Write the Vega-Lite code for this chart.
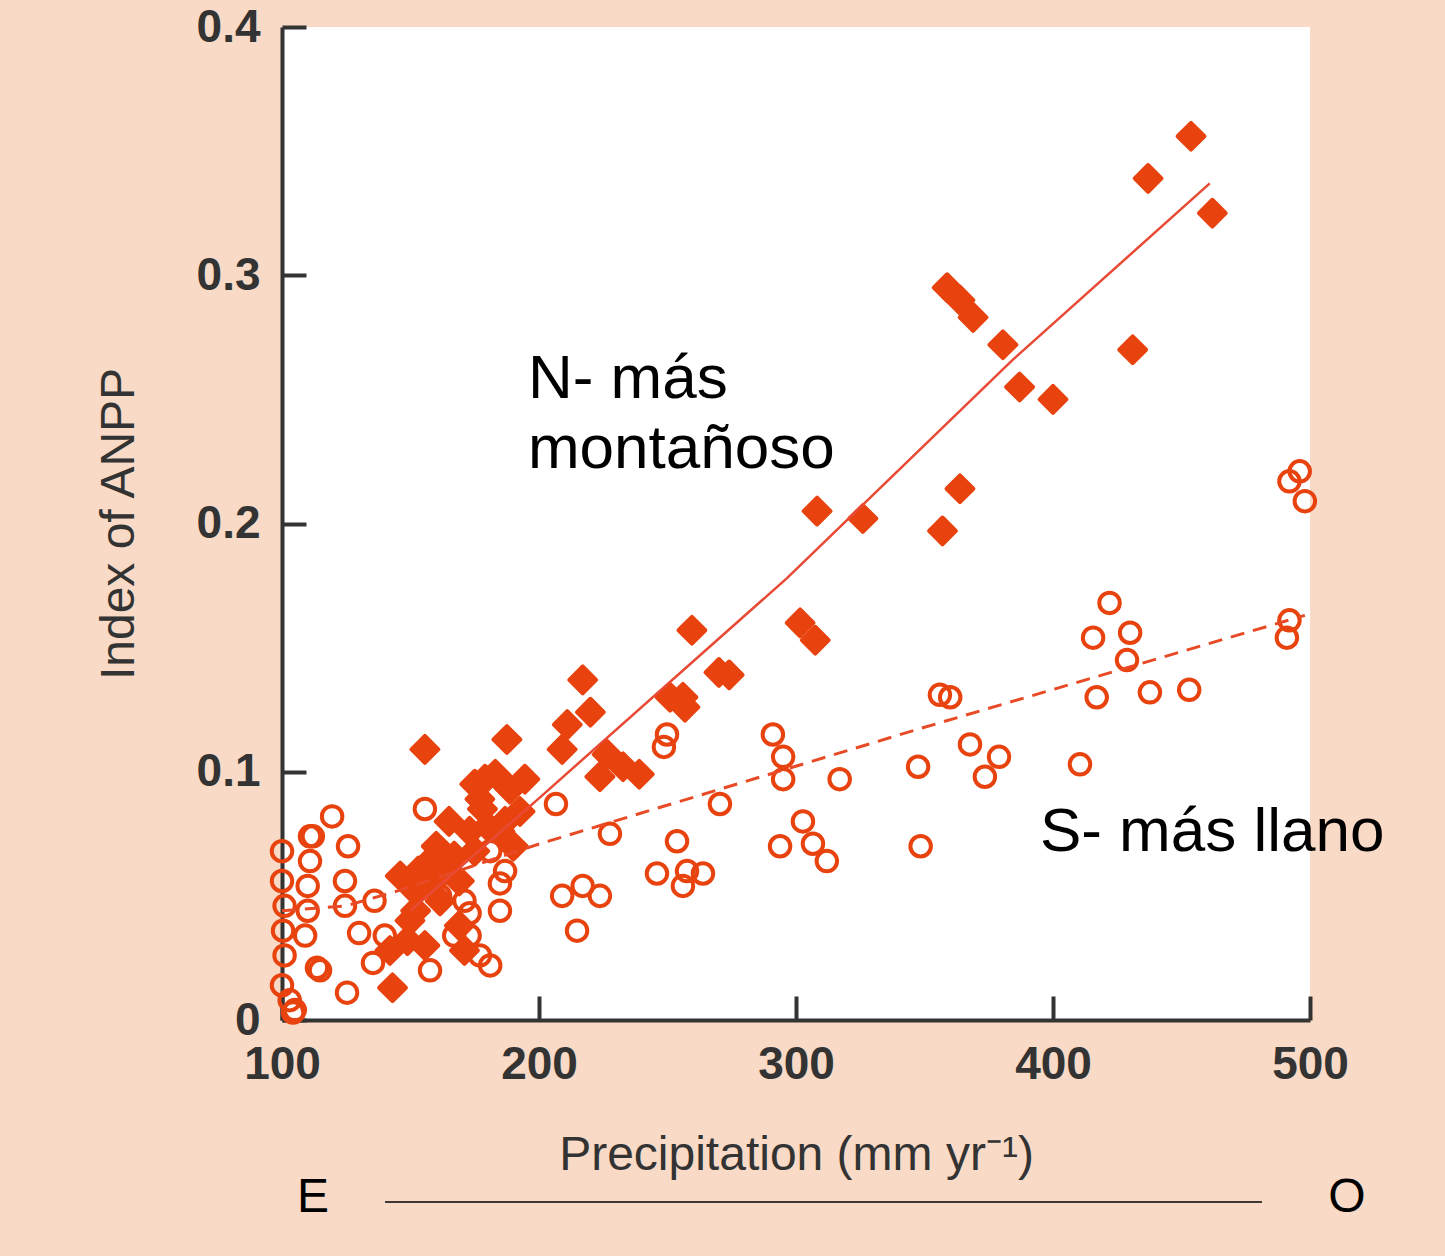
{
  "$schema": "https://vega.github.io/schema/vega-lite/v6.json",
  "width": 1028,
  "height": 993,
  "autosize": "none",
  "padding": {"left": 282, "top": 27, "right": 135, "bottom": 236},
  "background": "#F9DAC6",
  "config": {
    "view": {"fill": "white", "stroke": null},
    "axis": {
      "domainColor": "#333333",
      "domainWidth": 4,
      "tickColor": "#333333",
      "tickWidth": 4,
      "tickSize": -24,
      "labelPadding": 46,
      "labelFlush": false,
      "labelFont": "Liberation Sans",
      "labelFontSize": 46,
      "labelFontWeight": "bold",
      "labelColor": "#333333",
      "titleFont": "Liberation Sans",
      "titleFontSize": 48,
      "titleFontWeight": "normal",
      "titleColor": "#333333",
      "grid": false
    }
  },
  "datasets": {
    "north": [
      {"precip": 453.7, "anpp": 0.356}, {"precip": 437, "anpp": 0.339}, {"precip": 462, "anpp": 0.325},
      {"precip": 358.8, "anpp": 0.295}, {"precip": 363.8, "anpp": 0.290}, {"precip": 368.9, "anpp": 0.283},
      {"precip": 380.5, "anpp": 0.272}, {"precip": 387, "anpp": 0.255}, {"precip": 400, "anpp": 0.250},
      {"precip": 431, "anpp": 0.270}, {"precip": 363.8, "anpp": 0.214}, {"precip": 357, "anpp": 0.197},
      {"precip": 308.2, "anpp": 0.205}, {"precip": 326, "anpp": 0.202}, {"precip": 301.6, "anpp": 0.160},
      {"precip": 307.5, "anpp": 0.153}, {"precip": 259.5, "anpp": 0.157}, {"precip": 270, "anpp": 0.140},
      {"precip": 274, "anpp": 0.139}, {"precip": 251, "anpp": 0.130}, {"precip": 256, "anpp": 0.130},
      {"precip": 256.8, "anpp": 0.126}, {"precip": 217, "anpp": 0.137}, {"precip": 220, "anpp": 0.124},
      {"precip": 211, "anpp": 0.119}, {"precip": 209, "anpp": 0.109}, {"precip": 226.5, "anpp": 0.107},
      {"precip": 232.7, "anpp": 0.102}, {"precip": 239, "anpp": 0.099}, {"precip": 223.7, "anpp": 0.098},
      {"precip": 155.6, "anpp": 0.109}, {"precip": 187.5, "anpp": 0.113},
      {"precip": 143, "anpp": 0.013}, {"precip": 148.8, "anpp": 0.032}, {"precip": 152, "anpp": 0.044},
      {"precip": 157.6, "anpp": 0.056}, {"precip": 163, "anpp": 0.060}, {"precip": 167, "anpp": 0.066},
      {"precip": 173, "anpp": 0.076}, {"precip": 177, "anpp": 0.089}, {"precip": 183, "anpp": 0.099},
      {"precip": 188.7, "anpp": 0.093}, {"precip": 192.6, "anpp": 0.084}, {"precip": 184.8, "anpp": 0.076},
      {"precip": 175, "anpp": 0.068}, {"precip": 169, "anpp": 0.056}, {"precip": 161.5, "anpp": 0.048},
      {"precip": 149.8, "anpp": 0.040}, {"precip": 155.6, "anpp": 0.030}, {"precip": 171, "anpp": 0.028},
      {"precip": 142, "anpp": 0.028}, {"precip": 146, "anpp": 0.058}, {"precip": 157.6, "anpp": 0.064},
      {"precip": 165, "anpp": 0.080}, {"precip": 179, "anpp": 0.097}, {"precip": 186.8, "anpp": 0.080},
      {"precip": 194.5, "anpp": 0.097}, {"precip": 151.8, "anpp": 0.052}, {"precip": 169, "anpp": 0.038},
      {"precip": 178, "anpp": 0.085}, {"precip": 190, "anpp": 0.070}, {"precip": 180, "anpp": 0.078},
      {"precip": 160, "anpp": 0.070}, {"precip": 175, "anpp": 0.095}, {"precip": 153, "anpp": 0.060}
    ],
    "south": [
      {"precip": 100, "anpp": 0.068}, {"precip": 100, "anpp": 0.056}, {"precip": 101, "anpp": 0.046},
      {"precip": 100.4, "anpp": 0.036}, {"precip": 101, "anpp": 0.026}, {"precip": 100, "anpp": 0.014},
      {"precip": 105, "anpp": 0.004}, {"precip": 103, "anpp": 0.008}, {"precip": 110.9, "anpp": 0.074},
      {"precip": 110.9, "anpp": 0.064}, {"precip": 110, "anpp": 0.054}, {"precip": 110, "anpp": 0.044},
      {"precip": 109, "anpp": 0.034}, {"precip": 114.8, "anpp": 0.020}, {"precip": 119.5, "anpp": 0.082},
      {"precip": 125.7, "anpp": 0.070}, {"precip": 124.5, "anpp": 0.056}, {"precip": 124.5, "anpp": 0.046},
      {"precip": 130, "anpp": 0.035}, {"precip": 135.4, "anpp": 0.023}, {"precip": 125.3, "anpp": 0.011},
      {"precip": 136, "anpp": 0.048}, {"precip": 140, "anpp": 0.034}, {"precip": 155.6, "anpp": 0.085},
      {"precip": 161.5, "anpp": 0.050}, {"precip": 171, "anpp": 0.048}, {"precip": 173, "anpp": 0.034},
      {"precip": 177, "anpp": 0.026}, {"precip": 181, "anpp": 0.022}, {"precip": 184.8, "anpp": 0.044},
      {"precip": 186.8, "anpp": 0.060}, {"precip": 181, "anpp": 0.068}, {"precip": 167, "anpp": 0.034},
      {"precip": 157.6, "anpp": 0.020}, {"precip": 206.6, "anpp": 0.087}, {"precip": 217, "anpp": 0.054},
      {"precip": 214.8, "anpp": 0.036}, {"precip": 209, "anpp": 0.050}, {"precip": 223.7, "anpp": 0.050},
      {"precip": 245.9, "anpp": 0.059}, {"precip": 253.7, "anpp": 0.072}, {"precip": 257.6, "anpp": 0.060},
      {"precip": 263.8, "anpp": 0.059}, {"precip": 256, "anpp": 0.054}, {"precip": 270.4, "anpp": 0.087},
      {"precip": 227.6, "anpp": 0.075}, {"precip": 248.6, "anpp": 0.110}, {"precip": 249.8, "anpp": 0.115},
      {"precip": 291, "anpp": 0.115}, {"precip": 295, "anpp": 0.106}, {"precip": 295, "anpp": 0.097},
      {"precip": 317, "anpp": 0.097}, {"precip": 293.8, "anpp": 0.070}, {"precip": 302.7, "anpp": 0.080},
      {"precip": 306.6, "anpp": 0.071}, {"precip": 312, "anpp": 0.064}, {"precip": 347.5, "anpp": 0.102},
      {"precip": 348.5, "anpp": 0.070}, {"precip": 422, "anpp": 0.168}, {"precip": 415.6, "anpp": 0.154},
      {"precip": 430, "anpp": 0.156}, {"precip": 428.8, "anpp": 0.145}, {"precip": 417, "anpp": 0.130},
      {"precip": 437.7, "anpp": 0.132}, {"precip": 453, "anpp": 0.133}, {"precip": 356, "anpp": 0.131},
      {"precip": 360, "anpp": 0.130}, {"precip": 367.7, "anpp": 0.111}, {"precip": 379, "anpp": 0.106},
      {"precip": 373.5, "anpp": 0.098}, {"precip": 410.5, "anpp": 0.103}, {"precip": 492, "anpp": 0.161},
      {"precip": 491, "anpp": 0.154}, {"precip": 492, "anpp": 0.217}, {"precip": 496, "anpp": 0.221},
      {"precip": 498, "anpp": 0.209}, {"precip": 112, "anpp": 0.074}, {"precip": 113.6, "anpp": 0.021},
      {"precip": 104.3, "anpp": 0.003}, {"precip": 173, "anpp": 0.043}, {"precip": 184.8, "anpp": 0.055}
    ],
    "northFit": [
      {"precip": 150, "anpp": 0.044}, {"precip": 200.4, "anpp": 0.0897}, {"precip": 296.5, "anpp": 0.178},
      {"precip": 384.4, "anpp": 0.266}, {"precip": 461, "anpp": 0.337}
    ],
    "southFit": [
      {"precip": 100, "anpp": 0.044}, {"precip": 125, "anpp": 0.046}, {"precip": 145, "anpp": 0.052},
      {"precip": 200.4, "anpp": 0.071}, {"precip": 347, "anpp": 0.117}, {"precip": 498, "anpp": 0.163}
    ],
    "bigNotes": [
      {"precip": 195.7, "anpp": 0.2506, "label": ["N- más", "montañoso"]},
      {"precip": 394.9, "anpp": 0.0681, "label": "S- más llano"}
    ],
    "compass": [
      {"precip": 112.1, "anpp": -0.0773, "label": "E"},
      {"precip": 514.4, "anpp": -0.0773, "label": "O"}
    ],
    "transect": [
      {"start": 140.1, "end": 481.3, "anpp": -0.0733}
    ]
  },
  "layer": [
    {
      "data": {"name": "south"},
      "mark": {"type": "point", "shape": "circle", "filled": false, "size": 420, "strokeWidth": 4, "color": "#E8430F", "opacity": 1},
      "encoding": {
        "x": {"field": "precip", "type": "quantitative", "scale": {"domain": [100, 500], "nice": false, "zero": false},
              "axis": {"values": [100, 200, 300, 400, 500], "title": "Precipitation (mm yr⁻¹)", "titlePadding": 44}},
        "y": {"field": "anpp", "type": "quantitative", "scale": {"domain": [0, 0.4], "nice": false},
              "axis": {"values": [0, 0.1, 0.2, 0.3, 0.4], "labelExpr": "datum.value == 0 ? '0' : format(datum.value, '.1f')", "title": "Index of ANPP", "titlePadding": 53}}
      }
    },
    {
      "data": {"name": "north"},
      "mark": {"type": "point", "shape": "diamond", "filled": true, "size": 720, "strokeWidth": 4, "stroke": "#E8430F", "strokeJoin": "round", "color": "#E8430F", "opacity": 1},
      "encoding": {
        "x": {"field": "precip", "type": "quantitative"},
        "y": {"field": "anpp", "type": "quantitative"}
      }
    },
    {
      "data": {"name": "southFit"},
      "mark": {"type": "line", "color": "#E84A25", "strokeWidth": 3, "strokeDash": [14, 9]},
      "encoding": {
        "x": {"field": "precip", "type": "quantitative"},
        "y": {"field": "anpp", "type": "quantitative"}
      }
    },
    {
      "data": {"name": "northFit"},
      "mark": {"type": "line", "color": "#E84A35", "strokeWidth": 2.5},
      "encoding": {
        "x": {"field": "precip", "type": "quantitative"},
        "y": {"field": "anpp", "type": "quantitative"}
      }
    },
    {
      "data": {"name": "bigNotes"},
      "mark": {"type": "text", "align": "left", "baseline": "alphabetic", "font": "Liberation Sans", "fontSize": 62, "lineHeight": 70, "color": "black"},
      "encoding": {
        "x": {"field": "precip", "type": "quantitative"},
        "y": {"field": "anpp", "type": "quantitative"},
        "text": {"field": "label"}
      }
    },
    {
      "data": {"name": "compass"},
      "mark": {"type": "text", "align": "center", "baseline": "alphabetic", "font": "Liberation Sans", "fontSize": 48, "color": "black"},
      "encoding": {
        "x": {"field": "precip", "type": "quantitative"},
        "y": {"field": "anpp", "type": "quantitative"},
        "text": {"field": "label"}
      }
    },
    {
      "data": {"name": "transect"},
      "mark": {"type": "rule", "color": "black", "strokeWidth": 1.5},
      "encoding": {
        "x": {"field": "start", "type": "quantitative"},
        "x2": {"field": "end"},
        "y": {"field": "anpp", "type": "quantitative"}
      }
    }
  ]
}
